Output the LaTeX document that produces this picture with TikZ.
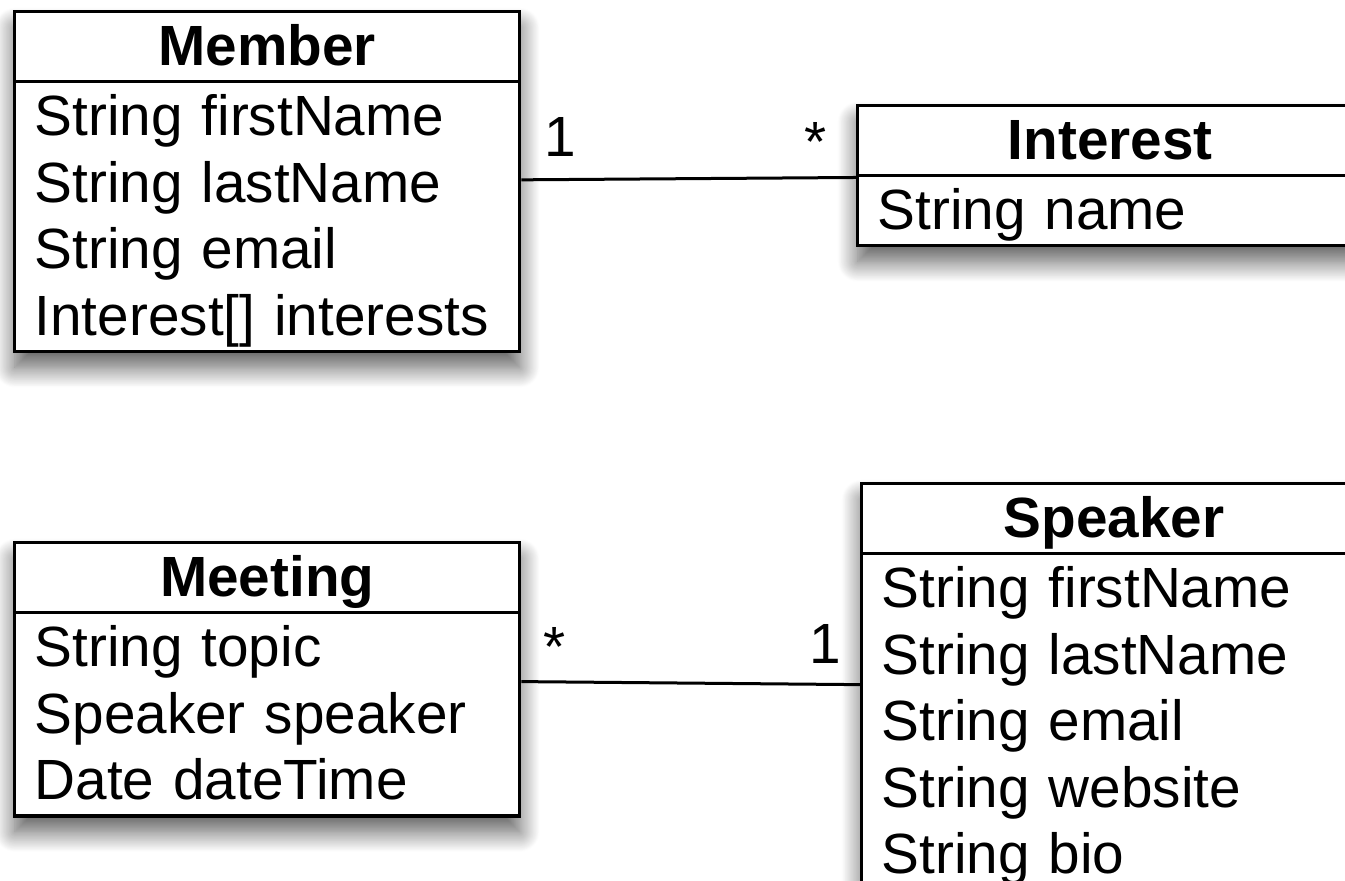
\documentclass[tikz,border=0pt]{standalone}
\usepackage{fontspec}
\setmainfont{Liberation Sans}
\usetikzlibrary{shapes.multipart,shadows.blur}
\newcommand\umlstrut{\rule[-7.3pt]{0pt}{33.3pt}}
\newcommand\umlhead[1]{\makebox[232.5pt]{\textbf{#1}\umlstrut}}
\tikzset{every picture/.style = {x=0.5pt, y=-0.5pt}}
\tikzset{umlclass/.style = {draw, line width=1.7pt, fill=white,
    rectangle split, rectangle split parts=2,
    text width=232.5pt, inner xsep=10pt, inner ysep=0pt, align=left,
    anchor=north west, font=\fontsize{28.35pt}{33.3pt}\selectfont,
    blur shadow={shadow xshift=0pt, shadow yshift=-8pt,
      shadow blur radius=10pt, shadow blur steps=24, shadow opacity=65}}}
\tikzset{assoc/.style = {line width=1.5pt}}
\tikzset{mult/.style = {font=\fontsize{28.35pt}{33.3pt}\selectfont, inner sep=0pt}}
\begin{document}
\begin{tikzpicture}
  \useasboundingbox (0, 0) rectangle (1345, 880);
  \node[umlclass] (member) at (13, 10)
    {\umlhead{Member}
     \nodepart{two}\umlstrut String firstName\\String lastName\\
     String email\\Interest[] interests\umlstrut};
  \node[umlclass] (interest) at (856, 104)
    {\umlhead{Interest}
     \nodepart{two}\umlstrut String name\umlstrut};
  \node[umlclass] (meeting) at (13, 541)
    {\umlhead{Meeting}
     \nodepart{two}\umlstrut String topic\\Speaker speaker\\
     Date dateTime\umlstrut};
  \node[umlclass] (speaker) at (860, 482)
    {\umlhead{Speaker}
     \nodepart{two}\umlstrut String firstName\\String lastName\\
     String email\\String website\\String bio\umlstrut};
  % associations
  \draw[assoc] (member) -- (interest)
    node[mult, pos=0, anchor=base west, xshift=11pt, yshift=11.5pt] (member-n) {1}
    node[mult, pos=1, anchor=base east, xshift=-14pt, yshift=8pt] (interest-n) {*};
  \draw[assoc] (meeting) -- (speaker)
    node[mult, pos=0, anchor=base west, xshift=10.5pt, yshift=7.5pt] (meeting-n) {*}
    node[mult, pos=1, anchor=base east, xshift=-8.5pt, yshift=10.5pt] (speaker-n) {1};
\end{tikzpicture}
\end{document}
